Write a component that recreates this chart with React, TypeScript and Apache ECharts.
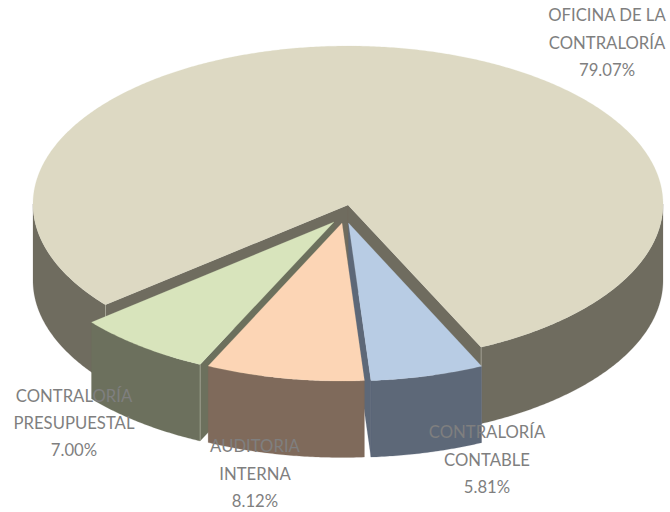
import React, { useEffect, useRef } from "react";
import * as echarts from "echarts";

// Clockwise order of the slices, starting from the first slice after 25° right of the front.
const categories = ["CONTRALORÍA\nCONTABLE", "AUDITORIA\nINTERNA", "CONTRALORÍA\nPRESUPUESTAL", "OFICINA DE LA\nCONTRALORÍA"];
const shares = [5.81, 8.12, 7.0, 79.07];
const topColors = ["#B8CCE4", "#FCD5B5", "#D8E4BC", "#DDD9C3"];
const wallColors = ["#5D6878", "#7F6A5B", "#6C705D", "#6F6C5F"];

// Projection of the pie
const CX = 348, CY = 204, RX = 315, RY = 158, DEPTH = 76.5, START = 25.0;
const offsets = [[0.5, 19], [-6, 19], [-14, 17.5], [0, 0]];
const apexShift = [0, 0, 0.5, 1];
const stacking = [3, 4, 2, 1];
const labelAnchors = [[487, 459.5], [255, 473.5], [74, 423], [607, 42.5]];

const rows = categories.map((c, i) => [i, shares[i]]);

function slices() {
  const total = shares.reduce((a, b) => a + b, 0);
  let a = START;
  return shares.map((v) => {
    const from = a;
    a -= (v / total) * 360;
    return [from, a];
  });
}
const ANGLES = slices();

function renderItem(params: any, api: any) {
  const i = api.value(0);
  const [from, to] = ANGLES[i];
  const [ox, oy] = offsets[i];
  const z2 = stacking[i];
  const cx = CX + ox, cy = CY + oy;
  const pt = (t: number, d = 0) => {
    const r = (t * Math.PI) / 180;
    return [cx + RX * Math.sin(r), cy + RY * Math.cos(r) + d];
  };
  const arc = (a: number, b: number, d = 0) => {
    const n = Math.max(2, Math.ceil(Math.abs(a - b) * 2));
    const out: number[][] = [];
    for (let k = 0; k <= n; k++) out.push(pt(a + ((b - a) * k) / n, d));
    return out;
  };
  const children: any[] = [];
  const poly = (points: number[][], fill: string, z = 0) =>
    children.push({ type: "polygon", z2: z2 * 10 + z, shape: { points }, style: { fill, stroke: fill, lineWidth: 0.2 } });
  const seam = (p: number[]) =>
    children.push({
      type: "line", z2: z2 * 10 + 3,
      shape: { x1: p[0], y1: p[1], x2: p[0], y2: p[1] + DEPTH },
      style: { stroke: "#C9C9B8", lineWidth: 0.5 },
    });

  // Front-facing outer wall: part of the arc whose angle lies within ±90° of the front.
  for (const k of [0, -360]) {
    const hi = Math.min(from, k + 90);
    const lo = Math.max(to, k - 90);
    if (hi > lo) poly(arc(hi, lo).concat(arc(lo, hi, DEPTH)), wallColors[i], 0);
  }
  // Cut faces that turn towards the viewer
  const apex = [cx, cy + apexShift[i]];
  const face = (t: number, withSeam: boolean) => {
    const p = pt(t);
    poly([apex, p, [p[0], p[1] + DEPTH], [apex[0], apex[1] + DEPTH]], wallColors[i], 1);
    if (withSeam) seam(p);
  };
  if (i === 0) face(to, false);
  if (i === 2) face(from, true);
  if (i === 3) { face(from, true); face(to, true); }
  // Top
  poly([apex, ...arc(from, to)], topColors[i], 2);
  // Label
  const [lx, ly] = labelAnchors[i];
  children.push({
    type: "text", z2: 100,
    style: {
      x: lx, y: ly,
      text: `${categories[i]}\n${shares[i].toFixed(2)}%`,
      fill: "#7F7F7F", font: "16.7px Lato", align: "center", verticalAlign: "middle", lineHeight: 27.3,
    },
  });
  return { type: "group", children };
}

export default function App() {
  const ref = useRef<HTMLDivElement>(null);
  useEffect(() => {
    document.body.style.margin = "0";
    const chart = echarts.init(ref.current!, null, { renderer: "svg" });
    chart.setOption({
      animation: false,
      backgroundColor: "#FFFFFF",
      series: [{ type: "custom", coordinateSystem: "none", data: rows, renderItem, silent: true, clip: false }],
    });
    return () => chart.dispose();
  }, []);
  return <div ref={ref} style={{ width: 670, height: 512 }} />;
}
